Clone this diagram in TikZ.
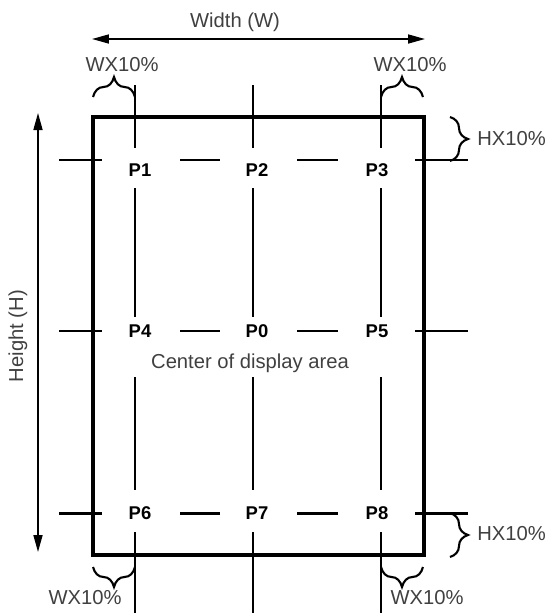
\documentclass[tikz,border=0pt]{standalone}
\usepackage{fontspec}
\setmainfont{Liberation Sans}
\usepackage{tikz}
\usetikzlibrary{arrows.meta, decorations.pathreplacing}
\tikzstyle{frame} = [line width=2.6pt, line join=miter, line cap=rect]
\tikzstyle{vline} = [line width=0.95pt]
\tikzstyle{hline} = [line width=1.7pt]
\tikzstyle{dim} = [line width=0.95pt, {Triangle[length=0.34cm,width=0.18cm]}-{Triangle[length=0.34cm,width=0.18cm]}]
\tikzstyle{curly} = [decorate, decoration={brace, amplitude=0.4cm}, line width=1.2pt]
\tikzstyle{plabel} = [font=\bfseries\fontsize{10.5}{12}\selectfont]
\tikzstyle{note} = [text=black!75, font=\fontsize{11.5}{13}\selectfont, inner sep=0pt]

\begin{document}
\begin{tikzpicture}[x=0.02cm, y=-0.02cm]
    \useasboundingbox (0,0) rectangle (549,613);

    % display area
    \coordinate (area-tl) at (93,117);
    \coordinate (area-br) at (424,555);
    \draw [frame] (area-tl) rectangle (area-br);

    % measuring points
    \node (p1) [plabel] at (140,170) {P1};
    \node (p2) [plabel] at (257,170) {P2};
    \node (p3) [plabel] at (377,170) {P3};
    \node (p4) [plabel] at (140,331) {P4};
    \node (p0) [plabel] at (257,331) {P0};
    \node (p5) [plabel] at (377,331) {P5};
    \node (p6) [plabel] at (140,513) {P6};
    \node (p7) [plabel] at (257,513) {P7};
    \node (p8) [plabel] at (377,513) {P8};
    \node (centre) [note] at (250,363) {Center of display area};

    % vertical guides
    \draw [vline] (135,85) -- (135,148) (135,188) -- (135,317) (135,377) -- (135,490) (135,532) -- (135,613);
    \draw [vline] (253,85) -- (253,148) (253,188) -- (253,317) (253,377) -- (253,490) (253,532) -- (253,613);
    \draw [vline] (381,85) -- (381,148) (381,188) -- (381,317) (381,377) -- (381,490) (381,532) -- (381,613);

    % horizontal guides
    \draw [hline] (59,160) -- (102,160) (180,160) -- (220,160) (297,160) -- (338,160) (415,160) -- (468,160);
    \draw [hline] (59,331) -- (102,331) (180,331) -- (220,331) (297,331) -- (338,331) (415,331) -- (468,331);
    \draw [hline] (59,513) -- (102,513) (180,513) -- (220,513) (297,513) -- (338,513) (415,513) -- (468,513);

    % overall dimensions
    \coordinate (w-left) at (92,39);
    \coordinate (w-right) at (425,39);
    \draw [dim] (w-left) -- (w-right);
    \node (width) [note] at (235,22) {Width (W)};
    \coordinate (h-top) at (38,113);
    \coordinate (h-bottom) at (38,552);
    \draw [dim] (h-top) -- (h-bottom);
    \node (height) [note, rotate=90] at (18,336) {Height (H)};

    % 10% margins
    \draw [curly] (93,97) -- (135,97);
    \draw [curly] (381,97) -- (423,97);
    \draw [curly] (135,567) -- (93,567);
    \draw [curly] (423,567) -- (381,567);
    \draw [curly, decoration={amplitude=0.36cm}] (450,117) -- (450,161);
    \draw [curly, decoration={amplitude=0.36cm}] (450,513) -- (450,557);
    \node (wx-tl) [note] at (122,65) {WX10\%};
    \node (wx-tr) [note] at (410,65) {WX10\%};
    \node (wx-bl) [note] at (85,598) {WX10\%};
    \node (wx-br) [note] at (427,598) {WX10\%};
    \node (hx-top) [note, anchor=west] at (477,139) {HX10\%};
    \node (hx-bottom) [note, anchor=west] at (477,534) {HX10\%};
\end{tikzpicture}
\end{document}
